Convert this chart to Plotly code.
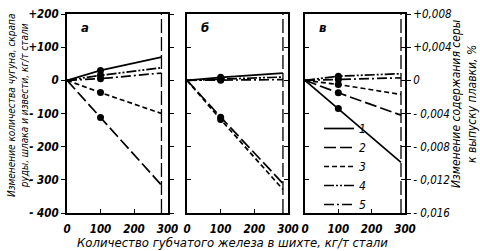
import plotly.graph_objects as go

# ---- data ----
x_a = [0, 100, 282]
x_b = [0, 100, 285]
x_c = [0, 100, 288]
limit_x = [282, 285, 288]          # dashed vertical limits of each panel
y_range = [-400, 200]               # left axis range, kg/t
s_range = [-0.016, 0.008]           # right axis range, %

# panel а (kg/t)
a_1 = [0, 30, 70]
a_2 = [0, -112, -316]
a_3 = [0, -37, -100]
a_4 = [0, 15, 38]
a_5 = [0, 5, 22]
# panel б (kg/t)
b_1 = [0, 9, 22]
b_2 = [0, -111, -311]
b_3 = [0, -118, -329]
b_4 = [0, 3, 10]
b_5 = [0, 0, 2]
# panel в (sulfur change, %)
c_1 = [0, -0.0034, -0.0099]
c_2 = [0, -0.0015, -0.0042]
c_3 = [0, -0.0005, -0.0017]
c_4 = [0, 0.0005, 0.0008]
c_5 = [0, 0.0001, 0.0003]

series_names = ["1", "2", "3", "4", "5"]
x_ticks = [0, 100, 200, 300]
y_ticks = [200, 100, 0, -100, -200, -300, -400]
y_ticktext = ["+200", "+100", "0", "- 100", "- 200", "- 300", "- 400"]
s_ticks = [0.008, 0.004, 0, -0.004, -0.008, -0.012, -0.016]
s_ticktext = ["+0,008", "+0,004", "0", "- 0,004", "- 0,008", "- 0,012", "- 0,016"]

dashes = ["solid", "12px,4px", "5px,3px", "10px,2px,2px,2px,2px,2px", "10px,3px,2px,3px"]
FONT = "DejaVu Sans Condensed, DejaVu Sans, sans-serif"

fig = go.Figure()

panels = [
    (x_a, [a_1, a_2, a_3, a_4, a_5], "x", "y", True),
    (x_b, [b_1, b_2, b_3, b_4, b_5], "x2", "y2", False),
    (x_c, [c_1, c_2, c_3, c_4, c_5], "x3", "y4", False),
]
for xs, sers, xa, ya, leg in panels:
    for name, ys, d in zip(series_names, sers, dashes):
        fig.add_trace(go.Scatter(x=xs, y=ys, mode="lines", name=name,
                                 line=dict(color="black", width=1.7, dash=d),
                                 xaxis=xa, yaxis=ya, showlegend=leg))
    fig.add_trace(go.Scatter(x=[xs[1]] * len(sers), y=[s[1] for s in sers], mode="markers",
                             marker=dict(color="black", size=7),
                             xaxis=xa, yaxis=ya, showlegend=False))

for lx, xa, ya in zip(limit_x, ["x", "x2", "x3"], ["y", "y2", "y3"]):
    fig.add_trace(go.Scatter(x=[lx, lx], y=y_range, mode="lines",
                             line=dict(color="black", width=1.3, dash="14px,4px"),
                             xaxis=xa, yaxis=ya, showlegend=False))

tickfont = dict(family=FONT, size=11.5, color="black", style="italic", weight="bold")
rtickfont = dict(family=FONT, size=11.5, color="black", style="italic")
top, bot = 1 - 14 / 251, 1 - 213 / 251
doms = [(67 / 480, 167.5 / 480), (187 / 480, 288 / 480), (305 / 480, 405 / 480)]

common_x = dict(range=[0, 300], tickvals=x_ticks, ticks="inside", ticklen=4, tickwidth=1.2,
                tickcolor="black", showline=True, linecolor="black", linewidth=2, mirror=True,
                showgrid=False, zeroline=False, tickfont=tickfont, automargin=False,
                ticklabelstandoff=4)
common_y = dict(range=y_range, tickvals=y_ticks, ticktext=y_ticktext, ticklen=4, tickwidth=1.2,
                tickcolor="black", showline=True, linecolor="black", linewidth=2, mirror="ticks",
                showgrid=False, zeroline=False, tickfont=tickfont, domain=[bot, top],
                automargin=False)

fig.update_layout(
    template="none",
    width=480, height=251, margin=dict(l=0, r=0, t=0, b=0, pad=0),
    paper_bgcolor="white", plot_bgcolor="white",
    xaxis=dict(common_x, domain=list(doms[0]), anchor="y"),
    xaxis2=dict(common_x, domain=list(doms[1]), anchor="y2"),
    xaxis3=dict(common_x, domain=list(doms[2]), anchor="y3"),
    yaxis=dict(common_y, anchor="x", ticks="outside"),
    yaxis2=dict(common_y, anchor="x2", ticks="inside", showticklabels=False),
    yaxis3=dict(common_y, anchor="x3", ticks="inside", showticklabels=False),
    yaxis4=dict(range=s_range, tickvals=s_ticks, ticktext=s_ticktext, overlaying="y3",
                anchor="x3", side="right", ticks="outside", ticklen=4, tickwidth=1.2,
                tickcolor="black", showline=True, linecolor="black", linewidth=2,
                showgrid=False, zeroline=False, tickfont=rtickfont, automargin=False),
    legend=dict(x=319 / 480, y=1 - 114 / 251, xanchor="left", yanchor="top",
                bgcolor="rgba(0,0,0,0)", borderwidth=0,
                font=dict(family=FONT, size=12, color="black", style="italic"),
                itemwidth=30, tracegroupgap=0),
    showlegend=True,
)

lab_font = dict(family=FONT, size=13, color="black", style="italic", weight="bold")
for xr, t in zip(["x domain", "x2 domain", "x3 domain"], ["а", "б", "в"]):
    fig.add_annotation(x=0.12, y=0.93, xref=xr, yref="y domain", text=t, showarrow=False,
                       font=lab_font, xanchor="left", yanchor="middle")

fig.add_annotation(x=18 / 480, y=1 - 106 / 251, xref="paper", yref="paper", textangle=-90,
                   xanchor="center", yanchor="middle",
                   text="Изменение количества чугуна, скрапа<br>руды, шлака и извести, кг/т стали",
                   showarrow=False, font=dict(family=FONT, size=10, color="black", style="italic"),
                   align="center")
fig.add_annotation(x=464 / 480, y=1 - 104 / 251, xref="paper", yref="paper", textangle=-90,
                   xanchor="center", yanchor="middle",
                   text="Изменение содержания серы<br>к выпуску плавки, %",
                   showarrow=False, font=dict(family=FONT, size=12, color="black", style="italic"),
                   align="center")
fig.add_annotation(x=232 / 480, y=1 - 242 / 251, xref="paper", yref="paper",
                   xanchor="center", yanchor="middle",
                   text="Количество губчатого железа в шихте, кг/т стали",
                   showarrow=False, font=dict(family=FONT, size=13, color="black", style="italic"))

fig.write_html("out.html")
